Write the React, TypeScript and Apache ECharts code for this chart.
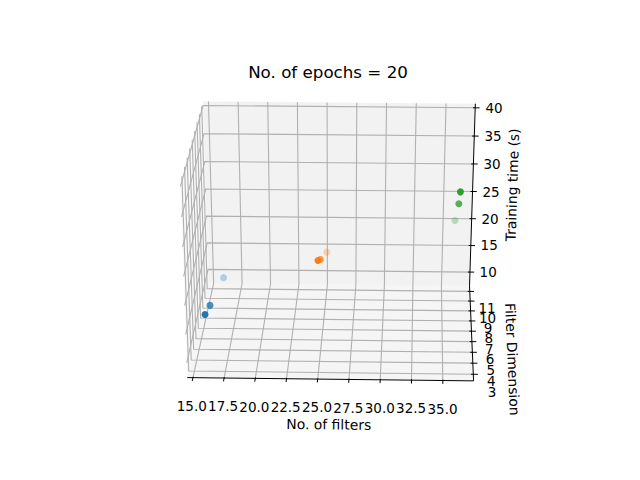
import React, { useEffect, useRef } from 'react';
import * as echarts from 'echarts';

// values: one group of runs per number of filters
const filterCounts = [16, 25, 36];
const filterDims = [3, 5, 11];
const timesF16 = [17.4, 15.3, 9.5];
const timesF25 = [26.9, 23.6, 14.5];
const timesF36 = [38.6, 33.4, 20.6];
const groupTimes = [timesF16, timesF25, timesF36];

const xTicks = [15, 17.5, 20, 22.5, 25, 27.5, 30, 32.5, 35];
const xTickLabels = ['15.0', '17.5', '20.0', '22.5', '25.0', '27.5', '30.0', '32.5', '35.0'];
const yTicks = [3, 4, 5, 6, 7, 8, 9, 10, 11];
const yTickLabels = ['3', '4', '5', '6', '7', '8', '9', '10', '11'];
const zTicks = [10, 15, 20, 25, 30, 35, 40];
const zTickLabels = ['10', '15', '20', '25', '30', '35', '40'];

const titleText = 'No. of epochs = 20';
const xName = 'No. of filters';
const yName = 'Filter Dimension';
const zName = 'Training time (s)';

const colors = ['#1f77b4', '#ff7f0e', '#2ca02c'];
const FONT = 'DejaVu Sans';
const TICK_FONT = 13.5;

// camera, mplot3d style
const ELEV = 25;
const AZIM = -88.2;
const DIST = 10;
// the 2d view window (-0.095 .. 0.09) of the 3d axes on the page
const WIN = { left: 80, right: 576, bottom: 427.2, top: 57.6, lo: -0.095, hi: 0.09 };
const TICK_LABEL_PUSH = 0.8857 / 12;
const AXIS_LABEL_PUSH = 1.9255 / 12;

const withMargin = (vals: number[]): number[] => {
  const lo = Math.min(...vals);
  const hi = Math.max(...vals);
  const m = (hi - lo) * 0.05;
  return [lo - m, hi + m];
};

const lims = [withMargin(filterCounts), withMargin(filterDims), withMargin(groupTimes.flat())];
const ranges = lims.map(([a, b]) => b - a);
const centers = lims.map(([a, b]) => (a + b) / 2);
// panes sit slightly outside the limits
const bounds = lims.map(([a, b]) => [a - (b - a) / 48, b + (b - a) / 48]);

const rad = Math.PI / 180;
const wv = [
  Math.cos(ELEV * rad) * Math.cos(AZIM * rad),
  Math.cos(ELEV * rad) * Math.sin(AZIM * rad),
  Math.sin(ELEV * rad),
];
const un = Math.hypot(wv[0], wv[1]);
const uv = [-wv[1] / un, wv[0] / un, 0];
const vv = [-wv[2] * uv[1], wv[2] * uv[0], wv[0] * uv[1] - wv[1] * uv[0]];

const dot = (a: number[], b: number[]) => a[0] * b[0] + a[1] * b[1] + a[2] * b[2];

function project(p: number[]) {
  const q = p.map((v, i) => (v - lims[i][0]) / ranges[i] - 0.5);
  const den = DIST - dot(wv, q);
  const sx = dot(uv, q) / den;
  const sy = dot(vv, q) / den;
  const t = (s: number) => (s - WIN.lo) / (WIN.hi - WIN.lo);
  return {
    px: WIN.left + t(sx) * (WIN.right - WIN.left),
    py: WIN.bottom + t(sy) * (WIN.top - WIN.bottom),
    den,
  };
}

const fromCenter = (p: number[], axis: number, push: number) =>
  p.map((v, i) => (i === axis ? v : v + (v >= centers[i] ? 1 : -1) * push * ranges[i]));

// scatter points with mplot3d depth shading, farthest drawn first
const points: any[] = [];
filterCounts.forEach((f, gi) => {
  const pr = filterDims.map((d, di) => project([f, d, groupTimes[gi][di]]));
  const zs = pr.map((p) => -1 / p.den);
  const lo = Math.min(...zs);
  const hi = Math.max(...zs);
  pr.forEach((p, di) => {
    points.push({
      den: p.den,
      value: [p.px, p.py],
      itemStyle: { color: colors[gi], opacity: 1 - 0.7 * ((zs[di] - lo) / (hi - lo)) },
    });
  });
});
points.sort((a, b) => b.den - a.den);
const scatterData = points.map(({ value, itemStyle }) => ({ value, itemStyle }));

function renderFrame(params: any, api: any) {
  const pt = (p: number[]) => {
    const r = project(p);
    return api.coord([r.px, r.py]);
  };
  const [[x0, x1], [y0, y1], [z0, z1]] = bounds;
  const kids: any[] = [];

  const pane = (corners: number[][], fill: string) =>
    kids.push({ type: 'polygon', shape: { points: corners.map(pt) }, style: { fill, stroke: 'none' } });
  pane([[x0, y0, z0], [x0, y1, z0], [x0, y1, z1], [x0, y0, z1]], 'rgba(242,242,242,0.5)');
  pane([[x0, y1, z0], [x1, y1, z0], [x1, y1, z1], [x0, y1, z1]], 'rgba(230,230,230,0.5)');
  pane([[x0, y0, z0], [x1, y0, z0], [x1, y1, z0], [x0, y1, z0]], 'rgba(236,236,236,0.5)');

  const gridLine = (pts: number[][]) =>
    kids.push({
      type: 'polyline',
      shape: { points: pts.map(pt) },
      style: { stroke: '#b0b0b0', lineWidth: 1.1, fill: 'none' },
    });
  xTicks.forEach((t) => gridLine([[t, y0, z0], [t, y1, z0], [t, y1, z1]]));
  yTicks.forEach((t) => gridLine([[x0, t, z1], [x0, t, z0], [x1, t, z0]]));
  zTicks.forEach((t) => gridLine([[x1, y1, t], [x0, y1, t], [x0, y0, t]]));

  const seg = (a: number[], b: number[], lw: number) => {
    const [ax, ay] = pt(a);
    const [bx, by] = pt(b);
    kids.push({ type: 'line', shape: { x1: ax, y1: ay, x2: bx, y2: by }, style: { stroke: '#000', lineWidth: lw } });
  };
  const label = (p: number[], text: string, size: number, dx = 0, dy = 0, rotation = 0) => {
    const [lx, ly] = pt(p);
    kids.push({
      type: 'text',
      x: lx + dx,
      y: ly + dy,
      rotation,
      style: {
        text,
        fill: '#000',
        fontSize: size,
        fontFamily: FONT,
        align: 'center',
        verticalAlign: 'middle',
        textAlign: 'center',
        textVerticalAlign: 'middle',
      },
    });
  };

  const axes = [
    { index: 0, a: [x0, y0, z0], b: [x1, y0, z0], name: xName },
    { index: 1, a: [x1, y1, z0], b: [x1, y0, z0], name: yName },
    { index: 2, a: [x1, y1, z0], b: [x1, y1, z1], name: zName },
  ];
  axes.forEach((ax) => seg(ax.a, ax.b, 1));

  const dy = ranges[1] / 12;
  const dx = ranges[0] / 12;
  xTicks.forEach((t, i) => {
    seg([t, y0 + 0.1 * dy, z0], [t, y0 - 0.4 * dy, z0], 1);
    label(fromCenter([t, y0, z0], 0, TICK_LABEL_PUSH), xTickLabels[i], TICK_FONT, 0, 7.5);
  });
  yTicks.forEach((t, i) => {
    seg([x1 - 0.1 * dx, t, z0], [x1 + 0.2 * dx, t, z0], 1);
    label(fromCenter([x1, t, z0], 1, TICK_LABEL_PUSH), yTickLabels[i], TICK_FONT, -1, 4.5);
  });
  zTicks.forEach((t, i) => {
    seg([x1 - 0.1 * dx, y1, t], [x1 + 0.2 * dx, y1, t], 1);
    label(fromCenter([x1, y1, t], 2, TICK_LABEL_PUSH), zTickLabels[i], TICK_FONT, 0, 5.5);
  });

  axes.forEach((ax) => {
    const pa = project(ax.a);
    const pb = project(ax.b);
    let ang = Math.atan2(-(pb.py - pa.py), pb.px - pa.px);
    if (ang > Math.PI / 2) ang -= Math.PI;
    if (ang < -Math.PI / 2) ang += Math.PI;
    const mid = ax.a.map((v, i) => (v + ax.b[i]) / 2);
    label(fromCenter(mid, ax.index, AXIS_LABEL_PUSH), ax.name, 13.9, 0, 0, ang);
  });

  kids.push({
    type: 'text',
    x: 328,
    y: 72.3,
    style: {
      text: titleText,
      fill: '#000',
      fontSize: 16.7,
      fontFamily: FONT,
      align: 'center',
      verticalAlign: 'middle',
      textAlign: 'center',
      textVerticalAlign: 'middle',
    },
  });

  return { type: 'group', children: kids };
}

const App: React.FC = () => {
  const chartRef = useRef<HTMLDivElement>(null);

  useEffect(() => {
    if (!chartRef.current) return;
    const chart = echarts.init(chartRef.current, null, { renderer: 'svg' });
    chart.setOption({
      animation: false,
      grid: { left: 0, right: 0, top: 0, bottom: 0 },
      xAxis: { type: 'value', min: 0, max: 640, show: false },
      yAxis: { type: 'value', min: 0, max: 480, inverse: true, show: false },
      series: [
        { type: 'custom', renderItem: renderFrame, data: [[0, 0]], silent: true, clip: false, z: 1 },
        { type: 'scatter', data: scatterData, symbol: 'circle', symbolSize: 7, silent: true, z: 3 },
      ],
    });
    return () => chart.dispose();
  }, []);

  return (
    <div
      ref={chartRef}
      style={{ position: 'absolute', left: 0, top: 0, width: '640px', height: '480px', background: '#fff' }}
    />
  );
};

export default App;
